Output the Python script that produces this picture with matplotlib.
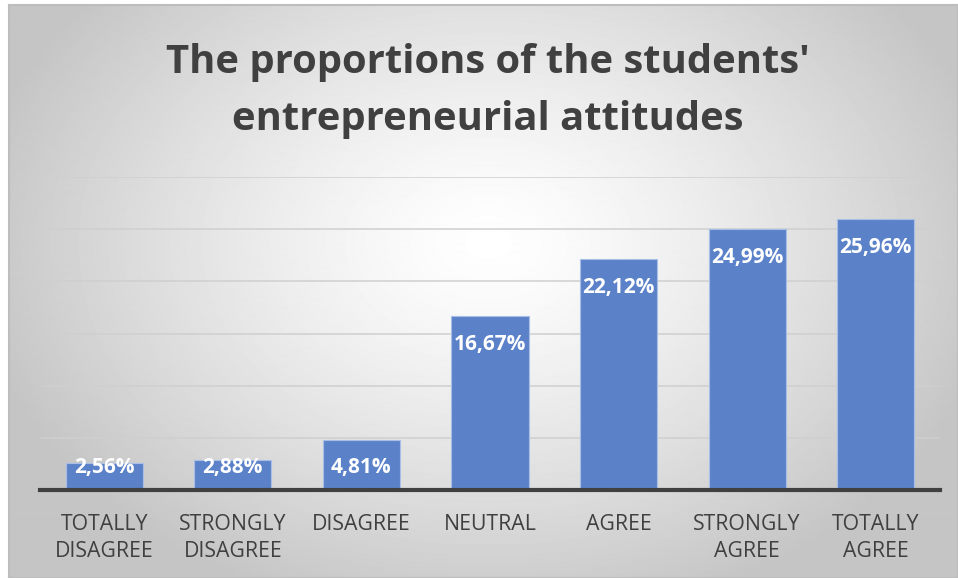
import numpy as np
import matplotlib.pyplot as plt

categories = ["TOTALLY\nDISAGREE", "STRONGLY\nDISAGREE", "DISAGREE", "NEUTRAL",
              "AGREE", "STRONGLY\nAGREE", "TOTALLY\nAGREE"]
shares = [2.56, 2.88, 4.81, 16.67, 22.12, 24.99, 25.96]
title = "The proportions of the students'\nentrepreneurial attitudes"

W, H = 958, 578
fig = plt.figure(figsize=(W / 100, H / 100), dpi=100)
fig.patch.set_facecolor("white")

# chart area background: soft radial gradient, white centre fading to grey
bg = fig.add_axes([9 / W, 0, 1 - 9 / W, 1 - 5 / H])
yy, xx = np.mgrid[0:H, 0:W - 9]
r = np.hypot((xx - 480) / 540.0, (yy - 240) / 400.0)
shade = np.clip(1.0 - 0.24 * r ** 1.3, 0.77, 1.0)
bg.imshow(shade, cmap="gray", vmin=0, vmax=1, aspect="auto", interpolation="bilinear")
bg.set_xticks([])
bg.set_yticks([])
for s in bg.spines.values():
    s.set_color("#bdbdbd")
    s.set_linewidth(1.5)

ax = fig.add_axes([40 / W, (H - 490) / H, 900 / W, (490 - 177) / H])
ax.set_facecolor("none")
x = np.arange(len(categories))
ax.bar(x, shares, width=0.6, color="#5B82C9", edgecolor="#A9BEE6", linewidth=0.8, zorder=3)
ax.set_xlim(-0.5, len(categories) - 0.5)
ax.set_ylim(0, 30)
ax.set_yticks(np.arange(0, 31, 5))
ax.yaxis.grid(True, color="#cfcfcf", linewidth=1.1, zorder=0)
ax.tick_params(axis="y", length=0, labelleft=False)
ax.tick_params(axis="x", length=0, pad=17)
ax.set_xticks(x)
ax.set_xticklabels(categories, fontsize=15.3, color="#404040", family="Open Sans", linespacing=1.42)
for side in ["top", "right", "left"]:
    ax.spines[side].set_visible(False)
ax.spines["bottom"].set_color("#404040")
ax.spines["bottom"].set_linewidth(3)
ax.spines["bottom"].set_zorder(4)

for xi, v in zip(x, shares):
    ax.text(xi, max(v - 2.7, 2.2), f"{v:.2f}%".replace(".", ","), ha="center", va="center",
            color="white", fontsize=15, fontweight="bold", family="Open Sans", zorder=5)

fig.text(488 / W, 1 - 91 / H, title, ha="center", va="center", fontsize=28.8,
         fontweight="bold", color="#404040", family="Open Sans", linespacing=1.62)

fig.savefig("out.png", dpi=100)
